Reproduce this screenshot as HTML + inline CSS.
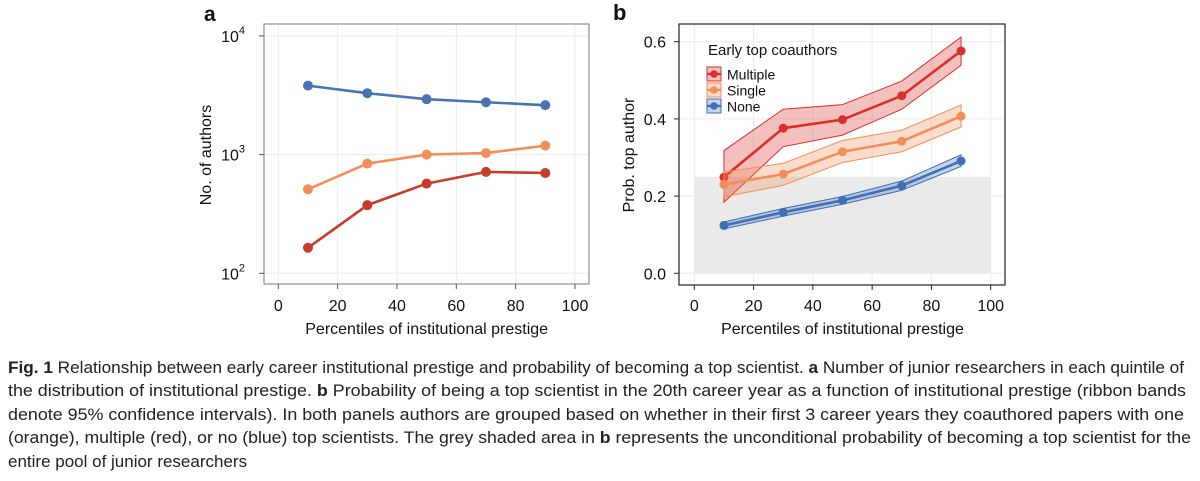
<!DOCTYPE html>
<html><head><meta charset="utf-8"><style>
html,body{margin:0;padding:0;background:#fff;}
svg{display:block;font-family:"Liberation Sans",sans-serif;}
</style></head><body>
<svg id="fig" width="1200" height="481" viewBox="0 0 1200 481" xmlns="http://www.w3.org/2000/svg">
<g id="pa"></g>
<g id="pb"></g>
<g id="cap" font-size="17" fill="#222">
<text x="8" y="373" textLength="1176" lengthAdjust="spacingAndGlyphs"><tspan font-weight="bold">Fig. 1</tspan> Relationship between early career institutional prestige and probability of becoming a top scientist. <tspan font-weight="bold">a</tspan> Number of junior researchers in each quintile of</text>
<text x="8" y="396" textLength="1178" lengthAdjust="spacingAndGlyphs">the distribution of institutional prestige. <tspan font-weight="bold">b</tspan> Probability of being a top scientist in the 20th career year as a function of institutional prestige (ribbon bands</text>
<text x="8" y="420" textLength="1176" lengthAdjust="spacingAndGlyphs">denote 95% confidence intervals). In both panels authors are grouped based on whether in their first 3 career years they coauthored papers with one</text>
<text x="8" y="443" textLength="1183" lengthAdjust="spacingAndGlyphs">(orange), multiple (red), or no (blue) top scientists. The grey shaded area in <tspan font-weight="bold">b</tspan> represents the unconditional probability of becoming a top scientist for the</text>
<text x="8" y="467">entire pool of junior researchers</text>
</g>
</svg>
<script>
const xs = [10, 30, 50, 70, 90];
const aBlue = [3810, 3290, 2930, 2760, 2610];
const aOrange = [510, 840, 1000, 1030, 1190];
const aRed = [164, 375, 570, 715, 700];
const bRed = [0.249, 0.376, 0.398, 0.460, 0.576];
const bRedLo = [0.184, 0.328, 0.358, 0.425, 0.539];
const bRedHi = [0.318, 0.425, 0.437, 0.498, 0.612];
const bOrange = [0.230, 0.257, 0.315, 0.342, 0.407];
const bOrangeLo = [0.198, 0.228, 0.287, 0.315, 0.379];
const bOrangeHi = [0.262, 0.285, 0.344, 0.371, 0.436];
const bBlue = [0.124, 0.158, 0.189, 0.227, 0.291];
const bBlueLo = [0.115, 0.148, 0.179, 0.215, 0.277];
const bBlueHi = [0.133, 0.168, 0.199, 0.239, 0.307];
const baseline = 0.25;
const xTicks = [0, 20, 40, 60, 80, 100];
const aYTicks = [2, 3, 4];
const bYTicks = [0, 0.2, 0.4, 0.6];
const legendLabels = ['Multiple', 'Single', 'None'];

const NS = 'http://www.w3.org/2000/svg';
function mk(p, tag, at, txt){const e=document.createElementNS(NS,tag);for(const k in at)e.setAttribute(k,at[k]);if(txt!==undefined)e.textContent=txt;p.appendChild(e);return e;}

const C = {blue:'#4a72b4', orange:'#f28e59', redA:'#c83a2c', redB:'#d9302a', blueB:'#3f6fb6'};

// Panel A
const pa = document.getElementById('pa');
const ax = v => 278.3 + (v/100)*296.7;
const ay = v => 273.3 - (Math.log10(v)-2)*118.7;
const axl = 264, axr = 589, axt = 24, axb = 284;
mk(pa,'rect',{x:axl,y:axt,width:axr-axl,height:axb-axt,fill:'#fff'});
xTicks.forEach(t=>{const l=mk(pa,'line',{x1:ax(t),x2:ax(t),y1:axt,y2:axb,stroke:'#ebebeb','stroke-width':1});
});
aYTicks.forEach(t=>{const l=mk(pa,'line',{x1:axl,x2:axr,y1:ay(Math.pow(10,t)),y2:ay(Math.pow(10,t)),stroke:'#ebebeb','stroke-width':1});
});
mk(pa,'rect',{x:axl,y:axt,width:axr-axl,height:axb-axt,fill:'none',stroke:'#777','stroke-width':1});
xTicks.forEach(t=>{mk(pa,'line',{x1:ax(t),x2:ax(t),y1:axb,y2:axb+5,stroke:'#555'});
const tx=mk(pa,'text',{x:ax(t),y:311,'font-size':16,'text-anchor':'middle',fill:'#111'},String(t));
});
aYTicks.forEach(t=>{const y=ay(Math.pow(10,t));mk(pa,'line',{x1:axl-5,x2:axl,y1:y,y2:y,stroke:'#555'});
const tx=mk(pa,'text',{x:245,y:y+6,'font-size':16,'text-anchor':'end',fill:'#111'});

mk(tx,'tspan',{},'10');mk(tx,'tspan',{dy:-8,'font-size':11},String(t));});
let t1=mk(pa,'text',{x:204,y:21,'font-size':21,'font-weight':'bold',fill:'#111'},'a');

t1=mk(pa,'text',{x:0,y:0,'font-size':16,'text-anchor':'middle',fill:'#111',transform:'translate(211,155) rotate(-90)'},'No. of authors');

t1=mk(pa,'text',{x:ax(50),y:334,'font-size':16,'text-anchor':'middle',fill:'#111'},'Percentiles of institutional prestige');

[[aBlue,C.blue,'blue'],[aOrange,C.orange,'orange'],[aRed,C.redA,'red']].forEach(([d,c,n])=>{
const pl=mk(pa,'polyline',{points:xs.map((x,i)=>ax(x)+','+ay(d[i])).join(' '),fill:'none',stroke:c,'stroke-width':2.6});

xs.forEach((x,i)=>{const p=mk(pa,'circle',{cx:ax(x),cy:ay(d[i]),r:5,fill:c});
});});

// Panel B
const pb = document.getElementById('pb');
const bx = v => 694.3 + (v/100)*296.4;
const by = v => 273.3 - v*386;
const bl=679, br=1005, bt=24, bb=285;
xTicks.forEach(t=>{const l=mk(pb,'line',{x1:bx(t),x2:bx(t),y1:bt,y2:bb,stroke:'#ebebeb'});
});
bYTicks.forEach(t=>{const l=mk(pb,'line',{x1:bl,x2:br,y1:by(t),y2:by(t),stroke:'#ebebeb'});
});
let g=mk(pb,'rect',{x:bx(0),y:by(baseline),width:bx(100)-bx(0),height:by(0)-by(baseline),fill:'#e6e6e6','fill-opacity':0.85});

mk(pb,'rect',{x:bl,y:bt,width:br-bl,height:bb-bt,fill:'none',stroke:'#222','stroke-width':1.2});
xTicks.forEach(t=>{mk(pb,'line',{x1:bx(t),x2:bx(t),y1:bb,y2:bb+5,stroke:'#222'});
const tx=mk(pb,'text',{x:bx(t),y:311,'font-size':16,'text-anchor':'middle',fill:'#111'},String(t));
});
bYTicks.forEach(t=>{mk(pb,'line',{x1:bl-5,x2:bl,y1:by(t),y2:by(t),stroke:'#222'});
const tx=mk(pb,'text',{x:666,y:by(t)+6,'font-size':16,'text-anchor':'end',fill:'#111'},t.toFixed(1));
});
t1=mk(pb,'text',{x:613,y:20,'font-size':22,'font-weight':'bold',fill:'#111'},'b');

t1=mk(pb,'text',{x:0,y:0,'font-size':16,'text-anchor':'middle',fill:'#111',transform:'translate(634,155) rotate(-90)'},'Prob. top author');

t1=mk(pb,'text',{x:bx(50),y:334,'font-size':16,'text-anchor':'middle',fill:'#111'},'Percentiles of institutional prestige');

const series=[[bRed,bRedLo,bRedHi,C.redB,'multiple'],[bOrange,bOrangeLo,bOrangeHi,C.orange,'single'],[bBlue,bBlueLo,bBlueHi,C.blueB,'none']];
series.forEach(([d,lo,hi,c,n])=>{
const pts=xs.map((x,i)=>bx(x)+','+by(hi[i])).concat(xs.slice().reverse().map((x,j)=>{const i=xs.length-1-j;return bx(x)+','+by(lo[i]);}));
const r=mk(pb,'polygon',{points:pts.join(' '),fill:c,'fill-opacity':0.3,stroke:c,'stroke-width':1});

const pl=mk(pb,'polyline',{points:xs.map((x,i)=>bx(x)+','+by(d[i])).join(' '),fill:'none',stroke:c,'stroke-width':2.6});

xs.forEach((x,i)=>{const p=mk(pb,'circle',{cx:bx(x),cy:by(d[i]),r:4.5,fill:c});
});});
const lg=mk(pb,'g',{});

t1=mk(lg,'text',{x:708,y:55,'font-size':15,fill:'#111'},'Early top coauthors');

series.forEach(([d,lo,hi,c,n],k)=>{const y=67+k*16;
const e=mk(lg,'g',{});
mk(e,'rect',{x:707,y:y,width:14,height:14,fill:c,'fill-opacity':0.3,stroke:c});
mk(e,'line',{x1:707,x2:721,y1:y+7,y2:y+7,stroke:c,'stroke-width':2.4});
mk(e,'circle',{cx:714,cy:y+7,r:3.8,fill:c});
mk(e,'text',{x:727,y:y+12.5,'font-size':14,fill:'#111'},legendLabels[k]);});
</script>
</body></html>
